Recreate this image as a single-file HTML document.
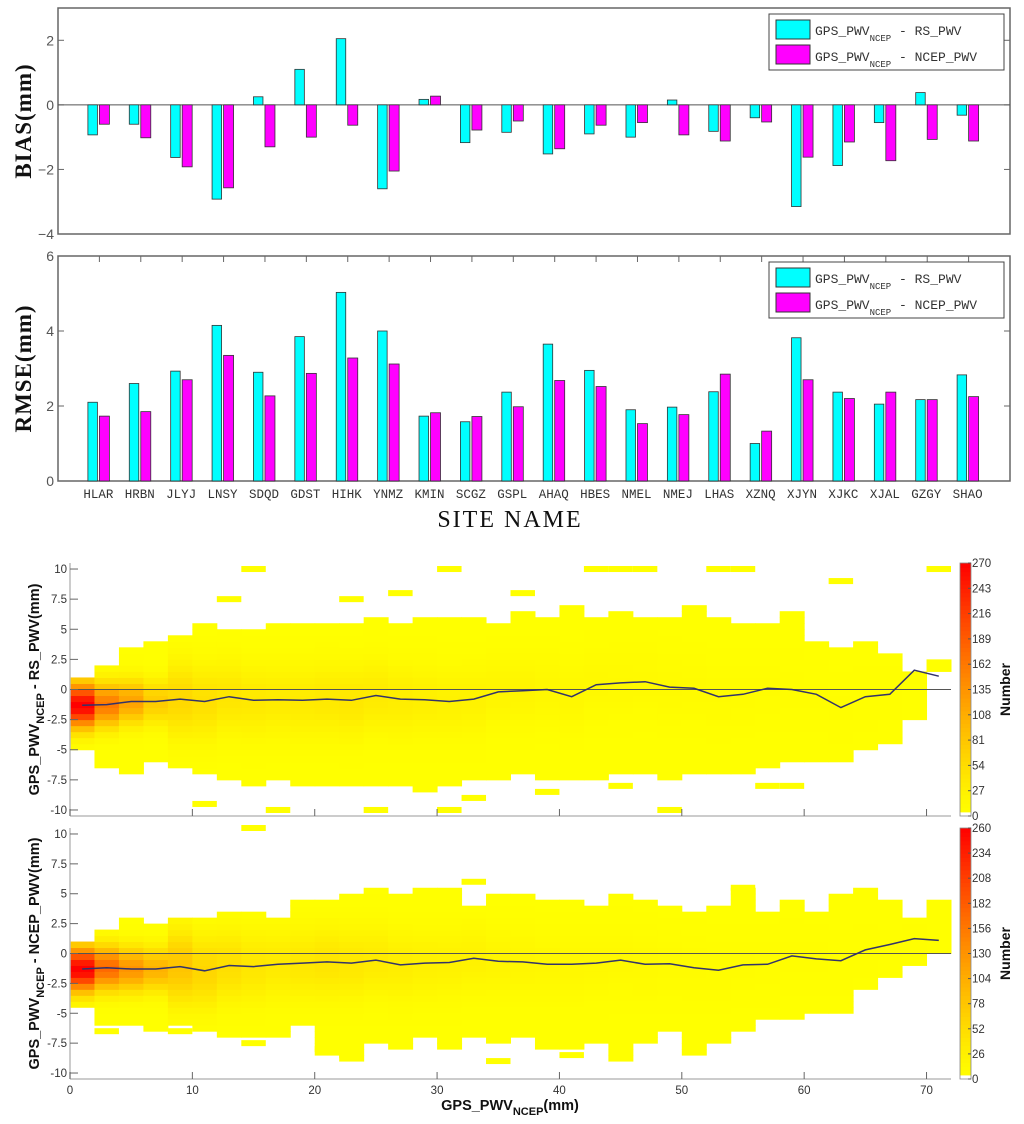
<!DOCTYPE html>
<html><head><meta charset="utf-8"><style>
html,body{margin:0;padding:0;background:#fff;}
svg{display:block;}
</style></head><body>
<svg id="fig" xmlns="http://www.w3.org/2000/svg" width="1024" height="1124" viewBox="0 0 1024 1124">
<g id="bias"></g>
<g id="rmse"></g>
<g id="hm1"></g>
<g id="hm2"></g>
</svg>
<script>
const sites = ["HLAR","HRBN","JLYJ","LNSY","SDQD","GDST","HIHK","YNMZ","KMIN","SCGZ","GSPL","AHAQ","HBES","NMEL","NMEJ","LHAS","XZNQ","XJYN","XJKC","XJAL","GZGY","SHAO"];
const biasRS = [-0.93,-0.6,-1.63,-2.92,0.25,1.1,2.05,-2.6,0.17,-1.17,-0.85,-1.52,-0.9,-1.0,0.15,-0.82,-0.4,-3.15,-1.88,-0.55,0.38,-0.32];
const biasNCEP = [-0.6,-1.02,-1.92,-2.57,-1.3,-1.0,-0.63,-2.05,0.27,-0.78,-0.5,-1.36,-0.63,-0.55,-0.93,-1.12,-0.53,-1.62,-1.15,-1.73,-1.07,-1.12];
const rmseRS = [2.1,2.6,2.93,4.15,2.9,3.85,5.03,4.0,1.73,1.58,2.37,3.65,2.95,1.9,1.97,2.38,1.0,3.82,2.37,2.05,2.17,2.83];
const rmseNCEP = [1.73,1.85,2.7,3.35,2.27,2.87,3.28,3.12,1.82,1.72,1.98,2.68,2.52,1.53,1.77,2.85,1.33,2.7,2.2,2.37,2.17,2.25];
const biasTicks = [-4,-2,0,2];
const rmseTicks = [0,2,4,6];

const hmMean1 = [-1.3,-1.25,-1.0,-1.0,-0.8,-1.0,-0.6,-0.9,-0.85,-0.9,-0.8,-0.9,-0.5,-0.8,-0.85,-1.0,-0.8,-0.2,-0.1,0.0,-0.6,0.4,0.55,0.65,0.2,0.1,-0.6,-0.4,0.1,0.0,-0.4,-1.5,-0.6,-0.4,1.6,1.1];
const hmHi1 = [1,2,3.5,4,4.5,5.5,5,5,5.5,5.5,5.5,5.5,6,5.5,6,6,6,5.5,6.5,6,7,6,6.5,6,6,7,6,5.5,5.5,6.5,4,3.5,4,3,1.5,2.5];
const hmLo1 = [-5,-6.5,-7,-6,-6.5,-7,-7.5,-8,-7.5,-8,-8,-8,-8,-8,-8.5,-8,-7.5,-7.5,-7,-7.5,-7.5,-7.5,-7,-7,-7.5,-7,-7,-7,-6.5,-6,-6,-6,-5,-4.5,-2.5,1.5];
const hmPeak1 = [270,160,120,75,60,50,42,38,35,35,38,40,36,32,28,25,24,20,20,16,16,14,13,12,11,10,9,8,7,6,5,5,4,3,2,1];
const hmOut1 = [[15,10],[31,10],[13,7.5],[23,7.5],[27,8],[37,8],[43,10],[45,10],[47,10],[53,10],[55,10],[63,9],[71,10],[11,-9.5],[17,-10],[25,-10],[31,-10],[33,-9],[39,-8.5],[45,-8],[57,-8],[59,-8],[49,-10]];
const hmMean2 = [-1.3,-1.2,-1.3,-1.3,-1.1,-1.45,-1.0,-1.1,-0.9,-0.8,-0.7,-0.8,-0.55,-0.95,-0.8,-0.75,-0.4,-0.65,-0.7,-0.9,-0.9,-0.8,-0.55,-0.9,-0.85,-1.2,-1.4,-0.95,-0.9,-0.2,-0.45,-0.6,0.3,0.75,1.25,1.1];
const hmHi2 = [1,2,3,2.5,3,3,3.5,3.5,3,4.5,4.5,5,5.5,5,5.5,5.5,4,5,5,4.5,4.5,4,5,4.5,4,3.5,4,5.5,3.5,4.5,3.5,5,5.5,4.5,3,4.5];
const hmLo2 = [-4.5,-6,-6,-6.5,-6,-6.5,-7,-7,-7,-6,-8.5,-9,-7.5,-8,-7,-8,-7,-7.5,-7,-8,-8,-7.5,-9,-7.5,-6.5,-8.5,-7.5,-6.5,-5.5,-5.5,-5,-5,-3,-2,-1,0];
const hmPeak2 = [260,170,130,100,80,60,50,40,35,38,42,38,34,30,26,25,24,20,18,16,15,14,13,12,10,9,8,7,6,5,5,4,3,2,2,1];
const hmOut2 = [[15,10.5],[3,-6.5],[9,-6.5],[15,-7.5],[21,-8],[23,-8.5],[35,-9],[41,-8.5],[33,6],[55,5.5]];
const cbTicks1 = [0,27,54,81,108,135,162,189,216,243,270];
const cbTicks2 = [0,26,52,78,104,130,156,182,208,234,260];
const hmYTicks = [10,7.5,5,2.5,0,-2.5,-5,-7.5,-10];
const hmXTicks = [0,10,20,30,40,50,60,70];

const NS="http://www.w3.org/2000/svg";
function mk(parent,tag,attrs,text){const e=document.createElementNS(NS,tag);for(const k in attrs)e.setAttribute(k,attrs[k]);if(text!==undefined)e.textContent=text;parent.appendChild(e);return e;}

const X0=58,X1=1010,catW=(X1-X0)/23;
function cx(i){return X0+(i+1)*catW;}
function legend(g,y){
  const lg=mk(g,'g',{});
  
  
  mk(lg,'rect',{x:769,y:y,width:235,height:56,fill:'#fff',stroke:'#444','stroke-width':1});
  const e1=mk(lg,'rect',{x:776,y:y+6,width:34,height:19,fill:'#00ffff',stroke:'#333'});
  
  
  const t1=mk(lg,'text',{x:815,y:y+21,'font-family':'Liberation Mono, monospace','font-size':13,fill:'#333'});
  t1.innerHTML='GPS_PWV<tspan font-size="9" dy="6">NCEP</tspan><tspan dy="-6"> - RS_PWV</tspan>';
  
  
  const e2=mk(lg,'rect',{x:776,y:y+31,width:34,height:19,fill:'#ff00ff',stroke:'#333'});
  
  
  const t2=mk(lg,'text',{x:815,y:y+47,'font-family':'Liberation Mono, monospace','font-size':13,fill:'#333'});
  t2.innerHTML='GPS_PWV<tspan font-size="9" dy="6">NCEP</tspan><tspan dy="-6"> - NCEP_PWV</tspan>';
  
  
}
function barChart(g,top,bot,vmin,vmax,ticks,s1,s2,label,showZero){
  const y=v=>bot-(v-vmin)*(bot-top)/(vmax-vmin);
  const fr=mk(g,'rect',{x:X0,y:top,width:X1-X0,height:bot-top,fill:'none',stroke:'#666','stroke-width':1.5});
  
  
  ticks.forEach(t=>{
    mk(g,'line',{x1:X0,x2:X0+6,y1:y(t),y2:y(t),stroke:'#666'});
    mk(g,'line',{x1:X1,x2:X1-6,y1:y(t),y2:y(t),stroke:'#666'});
    const tl=mk(g,'text',{x:X0-4,y:y(t)+5,'text-anchor':'end','font-family':'Liberation Sans, sans-serif','font-size':14,fill:'#555'},t<0?'\u2212'+(-t):String(t));
    
    
  });
  if(showZero) mk(g,'line',{x1:X0,x2:X1,y1:y(0),y2:y(0),stroke:'#555','stroke-width':1});
  sites.forEach((s,i)=>{
    const c=cx(i);
    const a=s1[i],b=s2[i];
    const r1=mk(g,'rect',{x:c-11.5,y:Math.min(y(a),y(0)),width:9.5,height:Math.abs(y(a)-y(0)),fill:'#00ffff',stroke:'#333','stroke-width':0.8});
    
    
    const r2=mk(g,'rect',{x:c,y:Math.min(y(b),y(0)),width:10,height:Math.abs(y(b)-y(0)),fill:'#ff00ff',stroke:'#333','stroke-width':0.8});
    
    
  });
  const yl=mk(g,'text',{transform:`translate(31,${(top+bot)/2}) rotate(-90)`,'text-anchor':'middle','font-family':'Liberation Serif, serif','font-size':23,'font-weight':'bold',fill:'#111','letter-spacing':'1'},label);
  
  
  return y;
}
const gb=document.getElementById('bias');
barChart(gb,8,234,-4,3,biasTicks,biasRS,biasNCEP,'BIAS(mm)',true);
legend(gb,14);
const gr=document.getElementById('rmse');
barChart(gr,256,481,0,6,rmseTicks,rmseRS,rmseNCEP,'RMSE(mm)',false);
sites.forEach((s,i)=>{
  mk(gr,'line',{x1:cx(i),x2:cx(i),y1:256,y2:262,stroke:'#666'});
  const t=mk(gr,'text',{x:cx(i)-1,y:498,'text-anchor':'middle','font-family':'Liberation Mono, monospace','font-size':12.5,fill:'#333'},s);
  
  
});
legend(gr,262);
const sn=mk(gr,'text',{x:510,y:527,'text-anchor':'middle','font-family':'Liberation Serif, serif','font-size':24,fill:'#111','letter-spacing':'2'},'SITE NAME');



function color(c,max){
  if(c<0.5) return null;
  const t=Math.min(1,c/max);
  const g=Math.round(255*(1-Math.pow(t,1.25)));
  return `rgb(255,${Math.max(0,Math.min(255,g))},0)`;
}
function heatmap(g,top,bot,mean,hi,lo,peak,out,max,cbTicks,ylabel,showX){
  const L=70,R=951;
  const x=v=>L+v*(R-L)/72;
  const y=v=>bot-(v+10.5)*(bot-top)/21;
  for(let i=0;i<mean.length;i++){
    const sd=i<4?1.3:2.2;
    for(let yb=lo[i];yb<hi[i]-0.01;yb+=0.5){
      const yc=yb+0.25;
      const cnt=Math.max(1,peak[i]*Math.exp(-0.5*Math.pow((yc-mean[i])/sd,2)));
      const col=color(cnt,max);
      if(!col) continue;
      const r=mk(g,'rect',{x:x(2*i),y:y(yb+0.5),width:x(2)-x(0)+0.5,height:y(0)-y(0.5)+0.5,fill:col});
      
      
    }
  }
  out.forEach(p=>{
    const r=mk(g,'rect',{x:x(p[0]-1),y:y(p[1]+0.25),width:x(2)-x(0),height:y(0)-y(0.5),fill:'#ffff00'});
    
    
  });
  mk(g,'line',{x1:L,x2:L,y1:top,y2:bot,stroke:'#bbb','stroke-width':1.5});
  mk(g,'line',{x1:L,x2:R,y1:bot,y2:bot,stroke:'#bbb','stroke-width':1.5});
  mk(g,'line',{x1:L,x2:R,y1:y(0),y2:y(0),stroke:'#555','stroke-width':1});
  hmYTicks.forEach(t=>{
    mk(g,'line',{x1:L,x2:L+8,y1:y(t),y2:y(t),stroke:'#666'});
    const tl=mk(g,'text',{x:L-3,y:y(t)+4,'text-anchor':'end','font-family':'Liberation Sans, sans-serif','font-size':11.5,fill:'#333'},String(t));
    
    
  });
  hmXTicks.forEach(t=>{
    mk(g,'line',{x1:x(t),x2:x(t),y1:bot,y2:bot-7,stroke:'#666'});
    if(showX){
      const tl=mk(g,'text',{x:x(t),y:bot+15,'text-anchor':'middle','font-family':'Liberation Sans, sans-serif','font-size':11.5,fill:'#333'},String(t));
      
      
    }
  });
  let d='';
  mean.forEach((m,i)=>{d+=(i?'L':'M')+x(2*i+1).toFixed(1)+','+y(m).toFixed(1);});
  const ml=mk(g,'path',{d:d,fill:'none',stroke:'#33336a','stroke-width':1.5});
  
  
  const yl=mk(g,'text',{transform:`translate(39,${(top+bot)/2}) rotate(-90)`,'text-anchor':'middle','font-family':'Liberation Sans, sans-serif','font-size':14.5,'font-weight':'bold',fill:'#111'});
  yl.innerHTML='GPS_PWV<tspan font-size="11" dy="5">NCEP</tspan><tspan dy="-5"> - '+ylabel+'(mm)</tspan>';
  
  
  const cbg=mk(g,'g',{});
  
  
  const CX=960,CW=11,n=60;
  for(let k=0;k<n;k++){
    const v=(k+0.5)/n*max;
    const col=k===0?'#fff':color(Math.max(v,8),max);
    mk(cbg,'rect',{x:CX,y:bot-(k+1)*(bot-top)/n,width:CW,height:(bot-top)/n+0.6,fill:col});
  }
  mk(cbg,'rect',{x:CX,y:top,width:CW,height:bot-top,fill:'none',stroke:'#888','stroke-width':0.8});
  cbTicks.forEach(t=>{
    const ty=bot-t/max*(bot-top);
    mk(cbg,'line',{x1:CX+CW-3,x2:CX+CW,y1:ty,y2:ty,stroke:'#555'});
    const tl=mk(cbg,'text',{x:CX+CW+1,y:ty+4,'font-family':'Liberation Sans, sans-serif','font-size':11.5,fill:'#333'},String(t));
    
    
  });
  const nt=mk(cbg,'text',{transform:`translate(1010,${(top+bot)/2}) rotate(-90)`,'text-anchor':'middle','font-family':'Liberation Sans, sans-serif','font-size':14,'font-weight':'bold',fill:'#111'},'Number');
  
  
}
heatmap(document.getElementById('hm1'),563,816,hmMean1,hmHi1,hmLo1,hmPeak1,hmOut1,270,cbTicks1,'RS_PWV',false);
heatmap(document.getElementById('hm2'),828,1079,hmMean2,hmHi2,hmLo2,hmPeak2,hmOut2,260,cbTicks2,'NCEP_PWV',true);
const xt=mk(document.getElementById('hm2'),'text',{x:510,y:1110,'text-anchor':'middle','font-family':'Liberation Sans, sans-serif','font-size':14.5,'font-weight':'bold',fill:'#111'});
xt.innerHTML='GPS_PWV<tspan font-size="11" dy="5">NCEP</tspan><tspan dy="-5">(mm)</tspan>';


</script>
</body></html>
